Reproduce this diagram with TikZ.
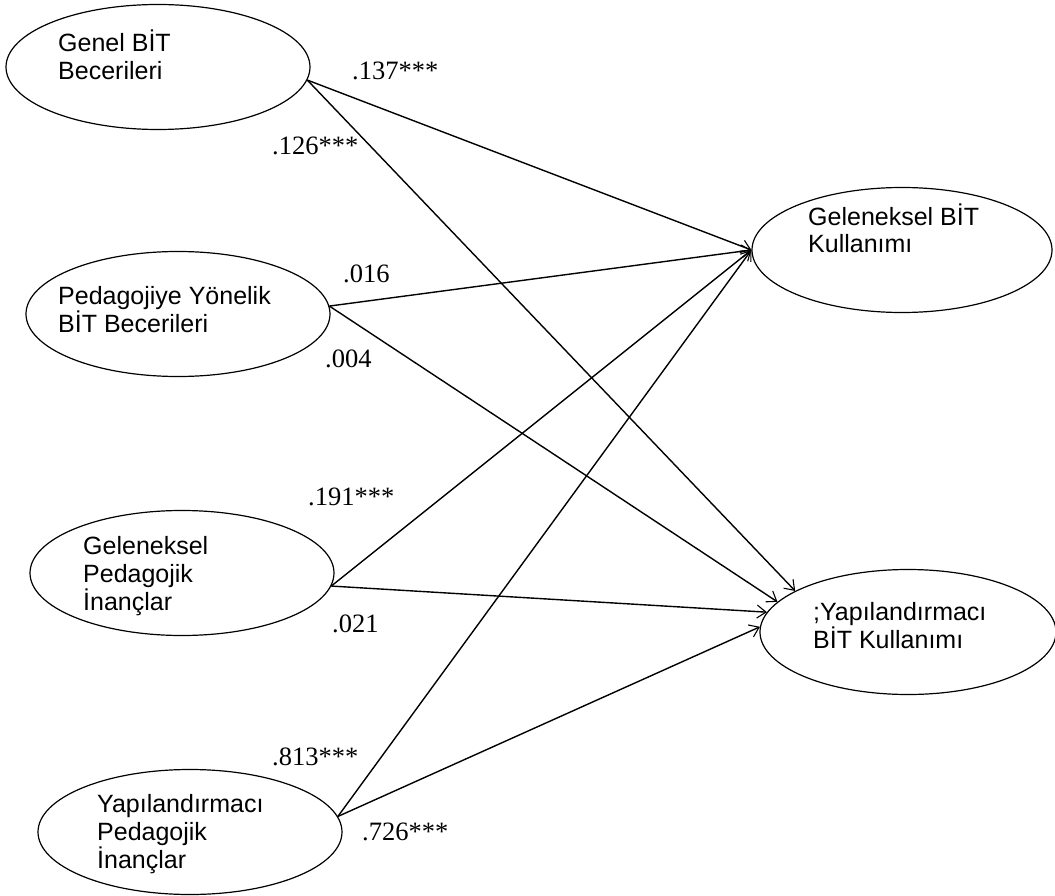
\documentclass[tikz,border=0pt]{standalone}
\usepackage{fontspec}
\setmainfont{Liberation Serif}
\newfontfamily\arialfont{Liberation Sans}
\usetikzlibrary{shapes.geometric,arrows.meta}
\begin{document}
\begin{tikzpicture}[x=1pt,y=-1pt,
  latent/.style={ellipse, draw, line width=1.2pt, inner sep=0pt,
                 minimum width=304pt, minimum height=125pt},
  vname/.style={anchor=base west, inner sep=0pt, align=left,
                font=\arialfont\fontsize{25}{28}\selectfont},
  coef/.style={anchor=base west, inner sep=0pt,
               font=\fontsize{26.5}{28}\selectfont},
  path/.style={line width=1.4pt,
               -{Straight Barb[length=9pt,width=13pt,line width=1.1pt]}}]
\useasboundingbox (0,0) rectangle (1055,896);

% exogenous variables
\node[latent] (gb) at (158,67)  {};
\node[latent] (pb) at (178,314) {};
\node[latent] (gp) at (182,573) {};
\node[latent] (yp) at (190,832) {};
% endogenous variables
\node[latent, minimum width=300pt] (gk) at (902,250) {};
\node[latent, minimum width=296pt] (yk) at (908,632) {};

\node[vname] (gbt) at (58,80)  {Genel BİT\\Becerileri};
\node[vname] (pbt) at (58,332) {Pedagojiye Yönelik\\BİT Becerileri};
\node[vname] (gpt) at (83,610) {Geleneksel\\Pedagojik\\İnançlar};
\node[vname] (ypt) at (97,868) {Yapılandırmacı\\Pedagojik\\İnançlar};
\node[vname] (gkt) at (808,253) {Geleneksel BİT\\Kullanımı};
\node[vname] (ykt) at (813,648) {;Yapılandırmacı\\BİT Kullanımı};

% structural paths
\draw[path] (gb.-5) -- (gk.west);
\draw[path] (gb.-5) -- (yk.160.7);
\draw[path] (pb.3)  -- (gk.west);
\draw[path] (pb.3)  -- (yk.167.6);
\draw[path] (gp.-5) -- (gk.west);
\draw[path] (gp.-5) -- (yk.172);
\draw[path] (yp.6)  -- (gk.west);
\draw[path] (yp.6)  -- (yk.178);

% path coefficients
\node[coef] (c1) at (352,80)  {.137***};
\node[coef] (c2) at (272,155) {.126***};
\node[coef] (c3) at (343,283) {.016};
\node[coef] (c4) at (325,367) {.004};
\node[coef] (c5) at (308,505) {.191***};
\node[coef] (c6) at (332,632) {.021};
\node[coef] (c7) at (272,765) {.813***};
\node[coef] (c8) at (362,840) {.726***};
\end{tikzpicture}
\end{document}
